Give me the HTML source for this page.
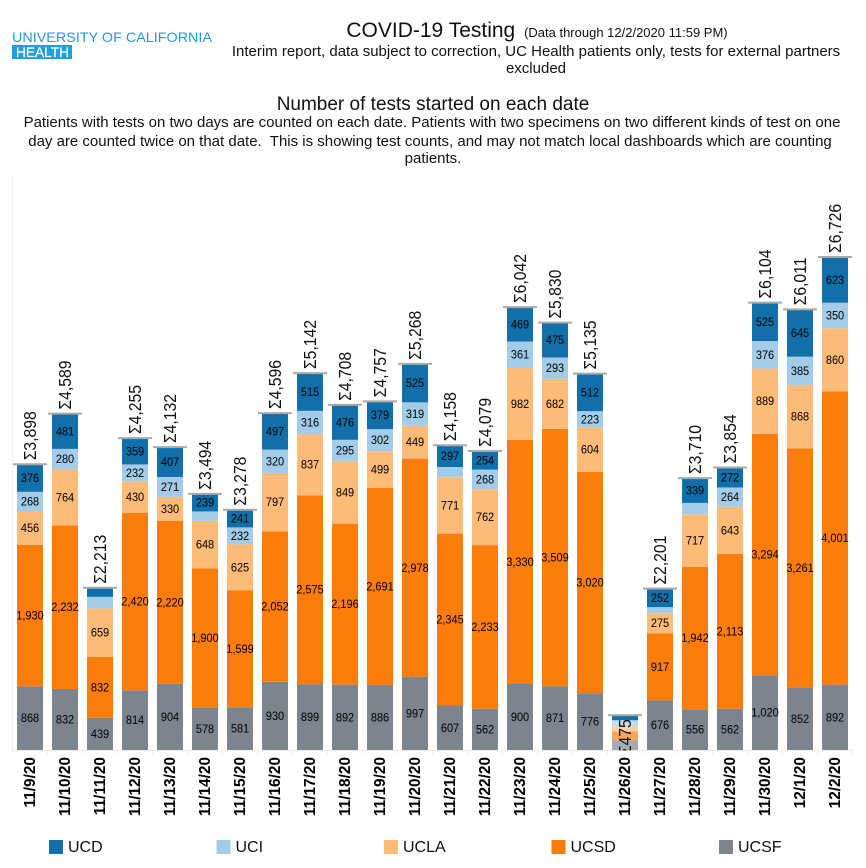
<!DOCTYPE html>
<html lang="en">
<head>
<meta charset="utf-8">
<title>COVID-19 Testing</title>
<style>
html,body{margin:0;padding:0;background:#fff;width:866px;height:868px;overflow:hidden}
svg{display:block;font-family:"Liberation Sans",sans-serif}
</style>
</head>
<body>
<svg id="chart" width="866" height="868" viewBox="0 0 866 868" xmlns="http://www.w3.org/2000/svg">
  <defs><clipPath id="plot-clip"><rect x="0" y="100" width="866" height="650.5"/></clipPath></defs>
  <g>
    <text x="12" y="42" font-size="14" fill="#1f9bdc" textLength="200" lengthAdjust="spacingAndGlyphs">UNIVERSITY OF CALIFORNIA</text>
    <rect x="12" y="45" width="60" height="14" fill="#1f9fe0"/>
    <text x="16" y="57" font-size="14" fill="#fff" stroke="#fff" stroke-width="0.2" textLength="53" lengthAdjust="spacingAndGlyphs">HEALTH</text>
  </g>
  <text x="537" y="37" text-anchor="middle" font-size="21" fill="#111">COVID-19 Testing <tspan dx="3" font-size="13">(Data through 12/2/2020 11:59 PM)</tspan></text>
  <text x="536" y="56" text-anchor="middle" font-size="15" fill="#111">Interim report, data subject to correction, UC Health patients only, tests for external partners</text>
  <text x="536" y="73" text-anchor="middle" font-size="15" fill="#111">excluded</text>
  <text x="433" y="110" text-anchor="middle" font-size="19" fill="#111">Number of tests started on each date</text>
  <text x="432" y="127" text-anchor="middle" font-size="15" fill="#111">Patients with tests on two days are counted on each date. Patients with two specimens on two different kinds of test on one</text>
  <text x="430" y="146" text-anchor="middle" font-size="15" fill="#111">day are counted twice on that date.&#160; This is showing test counts, and may not match local dashboards which are counting</text>
  <text x="433" y="163" text-anchor="middle" font-size="15" fill="#111">patients.</text>
  <g id="plot"></g>
  <g id="legend"></g>
</svg>
<script>
const categories = ["11/9/20","11/10/20","11/11/20","11/12/20","11/13/20","11/14/20","11/15/20","11/16/20","11/17/20","11/18/20","11/19/20","11/20/20","11/21/20","11/22/20","11/23/20","11/24/20","11/25/20","11/26/20","11/27/20","11/28/20","11/29/20","11/30/20","12/1/20","12/2/20"];
const ucsf = [868,832,439,814,904,578,581,930,899,892,886,997,607,562,900,871,776,130,676,556,562,1020,852,892];
const ucsd = [1930,2232,832,2420,2220,1900,1599,2052,2575,2196,2691,2978,2345,2233,3330,3509,3020,125,917,1942,2113,3294,3261,4001];
const ucla = [456,764,659,430,330,648,625,797,837,849,499,449,771,762,982,682,604,70,275,717,643,889,868,860];
const uci = [268,280,160,232,271,129,232,320,316,295,302,319,138,268,361,293,223,80,81,156,264,376,385,350];
const ucd = [376,481,123,359,407,239,241,497,515,476,379,525,297,254,469,475,512,70,252,339,272,525,645,623];
const seriesNames = ["UCSF","UCSD","UCLA","UCI","UCD"];
const seriesValues = [ucsf,ucsd,ucla,uci,ucd];
const seriesColors = ["#7b848f","#fc7d0b","#ffbc79","#a3cce9","#1170aa"];
const legendOrder = ["UCD","UCI","UCLA","UCSD","UCSF"];

const NS = "http://www.w3.org/2000/svg";
const plot = document.getElementById("plot");
const legend = document.getElementById("legend");
const baseY = 750, pxPerTest = 493 / 6726, bandLeft = 12.5, band = 35, barW = 26;
function yScale(v){ return baseY - v * pxPerTest; }
function xBand(i){ return bandLeft + i * band; }
function fmt(n){ return String(n).replace(/\B(?=(\d{3})+$)/g, ","); }
function make(tag, parent){ const el = document.createElementNS(NS, tag); parent.appendChild(el); return el; }
function setAll(el, props){ for (const k in props) el.setAttribute(k, props[k]); }

const yAxisLine = make("line", plot);


setAll(yAxisLine, {x1:bandLeft, x2:bandLeft, y1:177, y2:754, stroke:"#f0f0f0", "stroke-width":1});
const xAxisLine = make("line", plot);


setAll(xAxisLine, {x1:bandLeft, x2:xBand(categories.length), y1:baseY + 0.5, y2:baseY + 0.5, stroke:"#ececec", "stroke-width":1});

categories.forEach(function(cat, i){
  const left = xBand(i), cx = left + band / 2;
  const group = make("g", plot);
  
  

  const tick = make("line", group);
  
  
  setAll(tick, {x1:left + band, x2:left + band, y1:baseY, y2:754, stroke:"#ececec", "stroke-width":1});

  let cum = 0;
  seriesValues.forEach(function(vals, s){
    const v = vals[i];
    const y0 = yScale(cum), y1 = yScale(cum + v);
    const seg = make("rect", group);
    
    
    setAll(seg, {x:cx - barW / 2, y:y1, width:barW, height:y0 - y1, fill:seriesColors[s]});
    cum += v;
  });

  const total = cum;
  const topY = yScale(total);
  const labelInside = total < 1000;

  if (labelInside) {
    const veil = make("rect", group);
    
    
    setAll(veil, {x:cx - barW / 2, y:topY + 5, width:barW, height:baseY - topY - 5, fill:"#fff", "fill-opacity":0.32});
  }

  cum = 0;
  seriesValues.forEach(function(vals, s){
    const v = vals[i];
    const mid = yScale(cum + v / 2);
    cum += v;
    if (v < 200) return;
    const lab = make("text", group);
    
    
    setAll(lab, {transform:"translate(" + cx + "," + (mid + 4) + ") scale(0.95,1)", "text-anchor":"middle", "font-size":11.6, fill:"#000"});
    lab.textContent = fmt(v);
  });

  const cap = make("line", group);
  
  
  setAll(cap, {x1:left + 0.5, x2:left + band - 0.5, y1:topY, y2:topY, stroke:"#a9a9a9", "stroke-width":2});

  const holder = make("g", group);
  
  
  if (labelInside) holder.setAttribute("clip-path", "url(#plot-clip)");
  const sum = make("text", holder);
  
  
  const ly = labelInside ? topY + 40 : topY - 4;
  setAll(sum, {transform:"translate(" + (cx + 6) + "," + ly + ") rotate(-90) scale(0.9,1)", "font-size":17.5, fill:"#111"});
  sum.textContent = "\u03A3" + fmt(total);

  const date = make("text", group);
  
  
  setAll(date, {transform:"translate(" + (cx + 5) + ",757) rotate(-90)", "text-anchor":"end", "font-size":15.4, "font-weight":"bold", fill:"#000"});
  date.textContent = cat;
});

legendOrder.forEach(function(name, i){
  const color = seriesColors[seriesNames.indexOf(name)];
  const lx = 49 + i * 167.5;
  const entry = make("g", legend);
  
  
  const swatch = make("rect", entry);
  
  
  setAll(swatch, {x:lx, y:840, width:14, height:14, fill:color});
  const text = make("text", entry);
  
  
  setAll(text, {x:lx + 19, y:852, "font-size":16, fill:"#111"});
  text.textContent = name;
});
</script>
</body>
</html>
